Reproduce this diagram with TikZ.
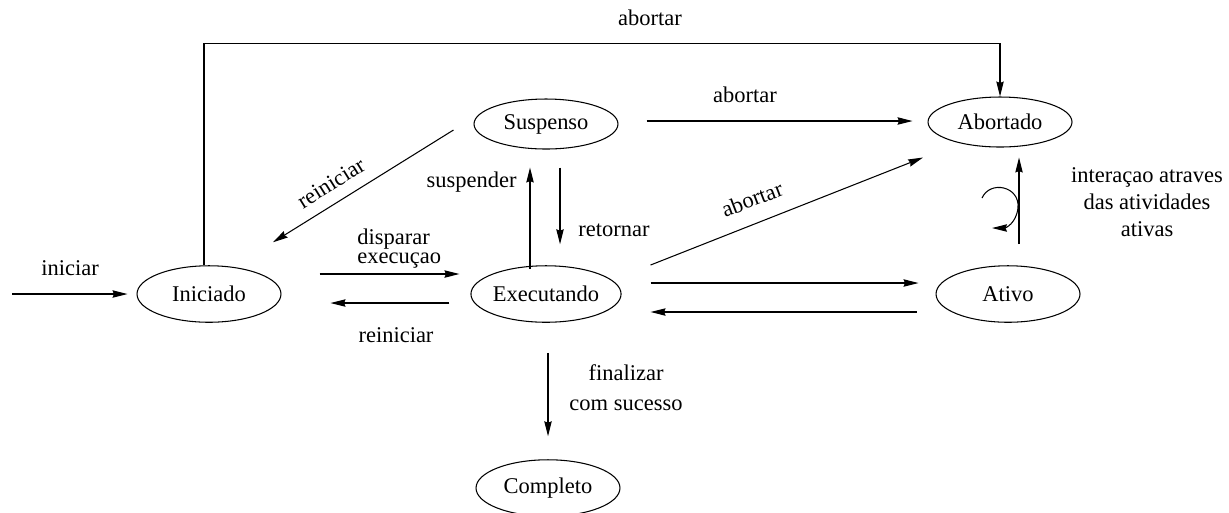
\documentclass[tikz,border=0pt]{standalone}
\usepackage{fontspec}
\newfontfamily\tms{Liberation Serif}
\usetikzlibrary{arrows.meta,calc,shapes.geometric}
\begin{document}
\begin{tikzpicture}[x=0.02cm,y=-0.02cm,
  font=\tms\fontsize{12.8}{15}\selectfont,
  state/.style={ellipse,draw,line width=0.6pt,inner sep=0pt,
    minimum width=2.88cm,minimum height=1.0cm},
  tall/.style={minimum height=1.13cm},
  arr/.style={line width=0.6pt,-{Stealth[length=8.5pt,width=4.2pt,inset=0.8pt]}},
  lbl/.style={inner sep=0pt}]
\useasboundingbox (0,0) rectangle (1229,512);

% states
\node[state] (sus) at (546,124) {Suspenso};
\node[state] (abo) at (1000,122) {Abortado};
\node[state,tall] (ini) at (209,294) {Iniciado};
\node[state,tall] (exe) at (546,294) {Executando};
\node[state,tall] (ati) at (1008,294) {Ativo};
\node[state,tall] (com) at (548,488) {Completo};

% entry
\coordinate (start) at (12,294);
\draw[arr] (start) -- ($(ini.west)+(-9,0)$);
\node[lbl] (liniciar) at (70,268) {iniciar};

% Iniciado -> Abortado over the top
\draw[arr] ($(ini.north)+(-5,0)$) -- ++(0,-222) -| (abo.north);
\node[lbl] (labtop) at (650,18) {abortar};

% Iniciado <-> Executando
\draw[arr] ($(ini.east)+(38,-20)$) -- ($(exe.west)+(-11,-20)$);
\node[lbl,anchor=west,align=left,font=\tms\fontsize{12.8}{10.8}\selectfont]
  (ldisp) at (357,249) {disparar\\execuçao};
\draw[arr] ($(exe.west)+(-21,9)$) -- ($(ini.east)+(49,9)$);
\node[lbl] (lrein1) at (396,335) {reiniciar};

% Suspenso -> Iniciado
\draw[arr] ($(sus.west)+(-20,6)$) -- ($(ini.north)+(64,-23)$);
\node[lbl,rotate=32] (lrein2) at (331,183) {reiniciar};

% Executando <-> Suspenso
\draw[arr] ($(exe.north)+(-16,4)$) -- ($(sus.south)+(-16,18)$);
\node[lbl,anchor=east] (lsusp) at (517,182) {suspender};
\draw[arr] ($(sus.south)+(14,18)$) -- ($(exe.north)+(14,-21)$);
\node[lbl,anchor=west] (lret) at (578,230) {retornar};

% transitions to Abortado
\draw[arr] ($(sus.east)+(28,-3)$) -- ($(abo.west)+(-15,-1)$);
\node[lbl] (lab2) at (745,95) {abortar};
\draw[arr] ($(exe.east)+(29,-29)$) -- ($(abo.south)+(-77,10)$);
\node[lbl,rotate=21] (lab3) at (752,199) {abortar};

% Executando <-> Ativo
\draw[arr] ($(exe.east)+(29,-11)$) -- ($(ati.west)+(-17,-11)$);
\draw[arr] ($(ati.west)+(-19,18)$) -- ($(exe.east)+(29,18)$);

% Ativo -> Abortado with self loop
\draw[arr] ($(ati.north)+(11,-21)$) -- ($(abo.south)+(19,10)$);
\draw[arr] (982,198) .. controls (990,180) and (1020,186) .. (1018,208)
  .. controls (1016,224) and (1005,228) .. (992,228);
\node[lbl,align=center,font=\tms\fontsize{12.8}{15.3}\selectfont]
  (linter) at (1147,202) {interaçao atraves\\das atividades\\ativas};

% Executando -> Completo
\draw[arr] ($(exe.south)+(2,30)$) -- ($(com.north)+(0,-23)$);
\node[lbl,align=center,font=\tms\fontsize{12.8}{17}\selectfont]
  (lfin) at (626,388) {finalizar\\com sucesso};
\end{tikzpicture}
\end{document}
